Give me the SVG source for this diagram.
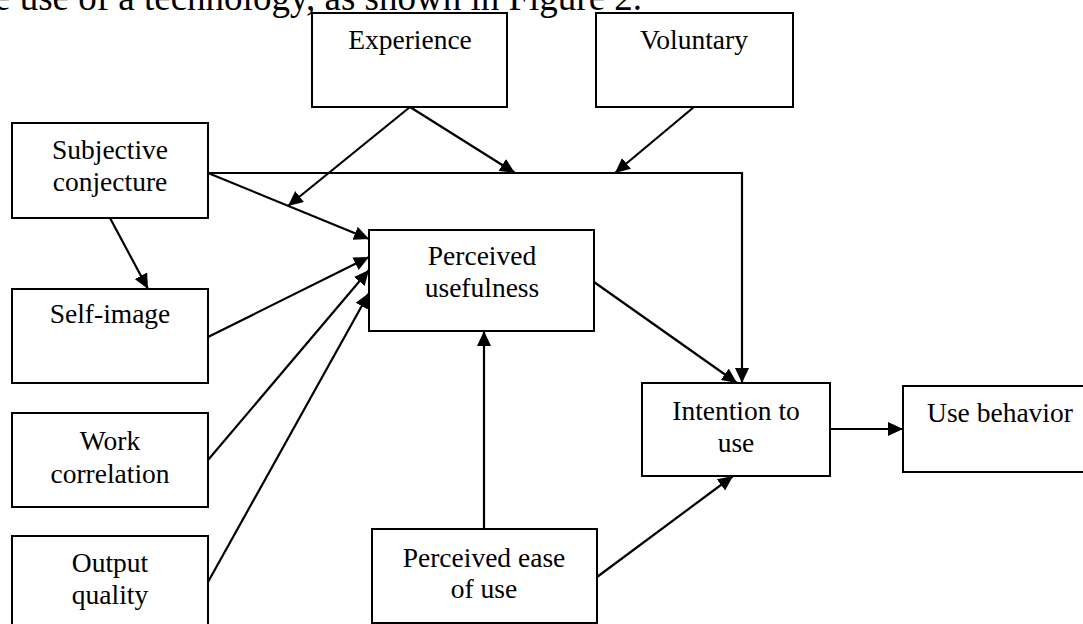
<svg xmlns="http://www.w3.org/2000/svg" width="1083" height="624" viewBox="0 0 1083 624">
<defs>
<style>
.box{fill:#fff;stroke:#000;stroke-width:2}
.lbl{font-family:"Liberation Serif","Times New Roman",serif;font-size:27.5px;fill:#000;text-anchor:middle}
.body{font-family:"Liberation Serif","Times New Roman",serif;font-size:37px;fill:#000}
.con{fill:none;stroke:#000;stroke-width:2.2}
</style>
<marker id="ah" markerUnits="userSpaceOnUse" markerWidth="16" markerHeight="14" refX="15" refY="7" orient="auto">
<path d="M0,0 L15,7 L0,14 z" fill="#000"/>
</marker>
</defs>
<rect width="1083" height="624" fill="#fff"/>
<text class="body" x="-6" y="10">e use of a technology, as shown in Figure 2.</text>

<g id="connectors">
<line class="con" x1="208" y1="173" x2="369" y2="239" marker-end="url(#ah)"/>
<polyline class="con" points="208,173 742,173 742,383" marker-end="url(#ah)"/>
<line class="con" x1="410" y1="107" x2="515" y2="173" marker-end="url(#ah)"/>
<line class="con" x1="410" y1="107" x2="288" y2="206" marker-end="url(#ah)"/>
<line class="con" x1="694" y1="107" x2="615" y2="173" marker-end="url(#ah)"/>
<line class="con" x1="110" y1="218" x2="148" y2="289" marker-end="url(#ah)"/>
<line class="con" x1="208" y1="337" x2="369" y2="257" marker-end="url(#ah)"/>
<line class="con" x1="208" y1="460" x2="369" y2="270" marker-end="url(#ah)"/>
<line class="con" x1="208" y1="582" x2="369" y2="293" marker-end="url(#ah)"/>
<line class="con" x1="594" y1="282" x2="737" y2="383" marker-end="url(#ah)"/>
<line class="con" x1="484" y1="529" x2="484" y2="331" marker-end="url(#ah)"/>
<line class="con" x1="597" y1="577" x2="733" y2="476" marker-end="url(#ah)"/>
<line class="con" x1="830" y1="429" x2="903" y2="429" marker-end="url(#ah)"/>
</g>

<g id="experience"><rect class="box" x="312" y="13" width="195" height="94"/><text class="lbl" x="410" y="49">Experience</text></g>
<g id="voluntary"><rect class="box" x="596" y="13" width="197" height="94"/><text class="lbl" x="694" y="49">Voluntary</text></g>
<g id="subjective"><rect class="box" x="12" y="123" width="196" height="95"/><text class="lbl" x="110" y="159">Subjective</text><text class="lbl" x="110" y="191">conjecture</text></g>
<g id="selfimage"><rect class="box" x="12" y="289" width="196" height="94"/><text class="lbl" x="110" y="323">Self-image</text></g>
<g id="work"><rect class="box" x="12" y="413" width="196" height="94"/><text class="lbl" x="110" y="450">Work</text><text class="lbl" x="110" y="483">correlation</text></g>
<g id="output"><rect class="box" x="12" y="536" width="196" height="94"/><text class="lbl" x="110" y="572">Output</text><text class="lbl" x="110" y="604">quality</text></g>
<g id="pu"><rect class="box" x="369" y="230" width="225" height="101"/><text class="lbl" x="482" y="265">Perceived</text><text class="lbl" x="482" y="297">usefulness</text></g>
<g id="intention"><rect class="box" x="642" y="383" width="188" height="93"/><text class="lbl" x="736" y="420">Intention to</text><text class="lbl" x="736" y="452">use</text></g>
<g id="usebehavior"><rect class="box" x="903" y="386" width="194" height="86"/><text class="lbl" x="1000" y="422">Use behavior</text></g>
<g id="peou"><rect class="box" x="372" y="529" width="225" height="94"/><text class="lbl" x="484" y="567">Perceived ease</text><text class="lbl" x="484" y="598">of use</text></g>
</svg>
